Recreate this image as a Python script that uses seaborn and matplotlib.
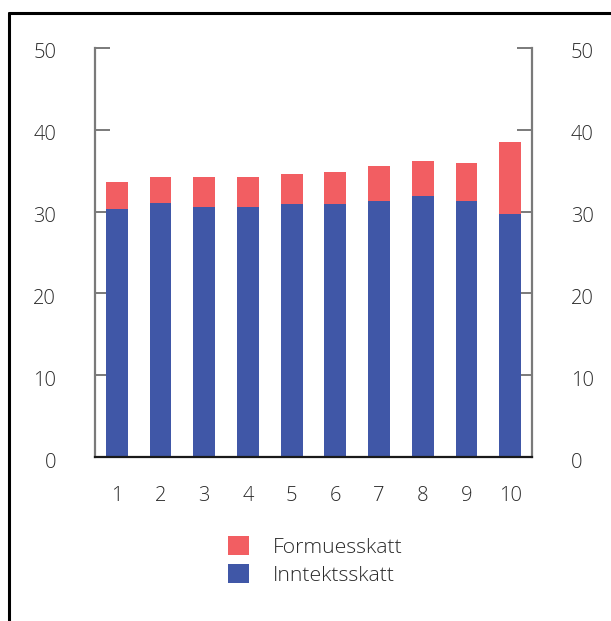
import matplotlib
matplotlib.use("Agg")
import matplotlib.pyplot as plt
import matplotlib.transforms as mtransforms
from matplotlib.lines import Line2D
from matplotlib.patches import Patch
import seaborn as sns
import pandas as pd

# Tax by decile (share in percent)
deciles = ["1", "2", "3", "4", "5", "6", "7", "8", "9", "10"]
inntektsskatt = [30.3, 31.0, 30.6, 30.6, 30.9, 30.9, 31.3, 31.9, 31.3, 29.7]
formuesskatt = [3.3, 3.2, 3.6, 3.6, 3.7, 3.9, 4.3, 4.3, 4.6, 8.8]
y_ticks = [0, 10, 20, 30, 40, 50]

BLUE = "#4057A7"
RED = "#F25E62"
TEXT = "#2b2b2b"
SPINE = "#7a7a7a"

df = pd.DataFrame({
    "desil": deciles,
    "Inntektsskatt": inntektsskatt,
    "Totalt": [a + b for a, b in zip(inntektsskatt, formuesskatt)],
})

sns.set_theme(style="white")
plt.rcParams["font.family"] = ["Open Sans", "DejaVu Sans"]

fig = plt.figure(figsize=(6.11, 6.21), dpi=100)
ax = fig.add_axes([95 / 611, 1 - 457 / 621, (532 - 95) / 611, (457 - 48) / 621])

# stacked bars: total in red, income tax drawn over it in blue
sns.barplot(data=df, x="desil", y="Totalt", color=RED, width=0.5,
            saturation=1, ax=ax, order=deciles)
sns.barplot(data=df, x="desil", y="Inntektsskatt", color=BLUE, width=0.5,
            saturation=1, ax=ax, order=deciles)
for p in ax.patches:
    p.set_linewidth(0)

ax.set_xlim(-0.5, len(deciles) - 0.5)
ax.set_ylim(0, 50)
ax.set_yticks(y_ticks)
ax.set_xlabel("")
ax.set_ylabel("")

for side in ["left", "right"]:
    ax.spines[side].set_visible(True)
    ax.spines[side].set_color(SPINE)
    ax.spines[side].set_linewidth(1.6)
ax.spines["top"].set_visible(False)
ax.spines["bottom"].set_visible(True)
ax.spines["bottom"].set_color("#1a1a1a")
ax.spines["bottom"].set_linewidth(1.6)

ax.tick_params(axis="y", left=True, right=True, labelleft=True, labelright=True,
               direction="in", length=11, width=1.4, color=SPINE,
               pad=28, labelsize=14.5, labelcolor=TEXT)
ax.tick_params(axis="x", bottom=False, length=0, pad=21,
               labelsize=14.5, labelcolor=TEXT)
for lab in ax.get_xticklabels() + ax.get_yticklabels():
    lab.set_fontweight("light")

shift = mtransforms.ScaledTranslation(0, -3 / 100, fig.dpi_scale_trans)
for t in ax.yaxis.get_major_ticks():
    t.label1.set_transform(t.label1.get_transform() + shift)
    t.label2.set_transform(t.label2.get_transform() + shift)
    t.label2.set_fontweight("light")
    t.label2.set_fontsize(14.5)
    t.label2.set_color(TEXT)

handles = [Patch(facecolor=RED, edgecolor="none", label="Formuesskatt"),
           Patch(facecolor=BLUE, edgecolor="none", label="Inntektsskatt")]
leg = fig.legend(handles=handles, loc="center", bbox_to_anchor=(315 / 611, 1 - 561 / 621),
                 frameon=False, fontsize=15.3, handlelength=1.0, handleheight=1.0,
                 handletextpad=1.1, labelspacing=0.3, labelcolor=TEXT)
for txt in leg.get_texts():
    txt.set_fontweight("light")

# frame lines along the top and left edge
fig.add_artist(Line2D([9 / 611, 1.0], [1 - 13 / 621, 1 - 13 / 621],
                      transform=fig.transFigure, color="black", linewidth=2.2))
fig.add_artist(Line2D([9 / 611, 9 / 611], [0, 1 - 13 / 621],
                      transform=fig.transFigure, color="black", linewidth=2.2))

fig.savefig("out.png", dpi=100)
